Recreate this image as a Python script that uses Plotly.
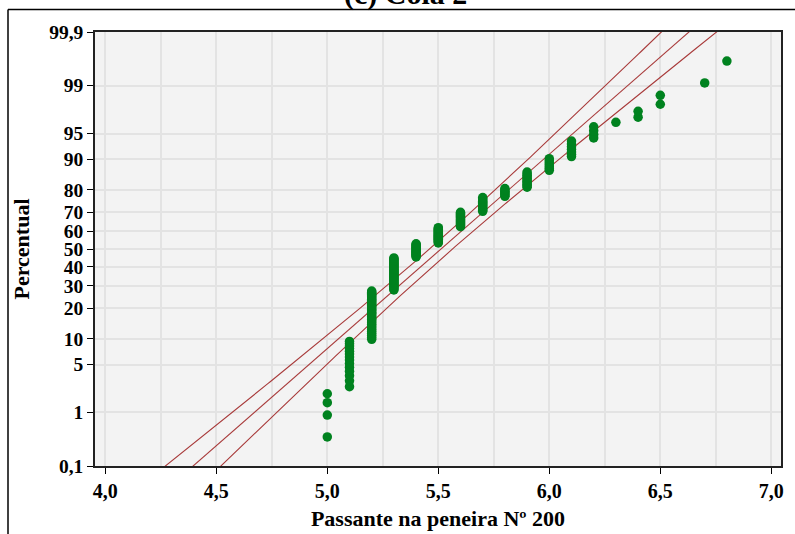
import math
from statistics import NormalDist

import numpy as np
import plotly.graph_objects as go

# Passing No. 200 sieve (%) and how many samples share each value
values = [5.0, 5.1, 5.2, 5.3, 5.4, 5.5, 5.6, 5.7, 5.8, 5.9,
          6.0, 6.1, 6.2, 6.3, 6.4, 6.5, 6.7, 6.8]
counts = [4, 14, 34, 33, 15, 17, 15, 13, 7, 11,
          7, 7, 4, 1, 2, 2, 1, 1]

# Probability-axis ticks (percent) and their labels
pct_ticks = [0.1, 1, 5, 10, 20, 30, 40, 50, 60, 70, 80, 90, 95, 99, 99.9]
pct_labels = ["0,1", "1", "5", "10", "20", "30", "40", "50", "60",
              "70", "80", "90", "95", "99", "99,9"]

nd = NormalDist()

# Sorted sample and median-rank plotting positions
obs = []
for v, c in zip(values, counts):
    obs.extend([v] * c)
obs.sort()
n = len(obs)
zs = [nd.inv_cdf((i + 1 - 0.3) / (n + 0.4)) for i in range(n)]

# Normal fit with 95% confidence bands
mean = sum(obs) / n
sd = math.sqrt(sum((o - mean) ** 2 for o in obs) / (n - 1))
zg = np.linspace(-3.6, 3.6, 300)
fit = mean + zg * sd
half = 1.96 * sd * np.sqrt(1.0 / n + zg ** 2 / (2.0 * n))

line_col = "#a83a3a"
font_fam = "Liberation Serif, Times New Roman, serif"

fig = go.Figure()
for xs in (fit - half, fit, fit + half):
    fig.add_trace(go.Scatter(x=xs, y=zg, mode="lines",
                             line=dict(color=line_col, width=1.1),
                             hoverinfo="skip"))
fig.add_trace(go.Scatter(x=obs, y=zs, mode="markers",
                         marker=dict(color="#00821f", size=9.5, line=dict(width=0))))

grid_col = "#e3e3e3"
z_ticks = [nd.inv_cdf(p / 100.0) for p in pct_ticks]
z_top = nd.inv_cdf(0.999)

fig.update_layout(
    width=795, height=534,
    margin=dict(l=95, r=14, t=32, b=68, autoexpand=False),
    paper_bgcolor="white",
    plot_bgcolor="#f3f3f3",
    showlegend=False,
    separators=",.",
    font=dict(family=font_fam, color="black"),
    xaxis=dict(
        range=[3.9536, 7.0437], automargin=False,
        tickmode="linear", tick0=4.0, dtick=0.5, tickformat=".1f",
        ticks="outside", ticklen=6, tickcolor="black",
        tickfont=dict(size=20, weight="bold"),
        showline=True, linecolor="#222", linewidth=1.5, mirror=True,
        showgrid=True, gridcolor=grid_col, gridwidth=1.5,
        minor=dict(dtick=0.25, tick0=4.0, showgrid=True,
                   gridcolor=grid_col, gridwidth=1.5),
        zeroline=False,
        title=dict(text="Passante na peneira Nº 200",
                   font=dict(size=22, weight="bold"), standoff=10),
    ),
    yaxis=dict(
        range=[-z_top, z_top], automargin=False,
        tickmode="array", tickvals=z_ticks, ticktext=pct_labels,
        ticks="outside", ticklen=6, tickcolor="black",
        tickfont=dict(size=19.5, weight="bold"),
        showline=True, linecolor="#222", linewidth=1.5, mirror=True,
        showgrid=True, gridcolor=grid_col, gridwidth=1.5,
        zeroline=False,
        title=dict(text="Percentual", font=dict(size=22, weight="bold"),
                   standoff=14),
    ),
)

# Outer frame (left and top edges) and the panel caption above it
px_x = lambda p: (p - 95) / 686.0
px_y = lambda p: (466 - p) / 434.0
fig.add_shape(type="line", xref="paper", yref="paper",
              x0=px_x(8), x1=px_x(800), y0=px_y(9.5), y1=px_y(9.5),
              line=dict(color="black", width=1.5))
fig.add_shape(type="line", xref="paper", yref="paper",
              x0=px_x(8), x1=px_x(8), y0=px_y(9.5), y1=px_y(540),
              line=dict(color="black", width=1.5))
fig.add_annotation(text="(c) Cola 2", xref="paper", yref="paper",
                   x=px_x(405), y=px_y(13), xanchor="center", yanchor="bottom",
                   showarrow=False,
                   font=dict(size=30, family=font_fam, weight="bold"))

fig.write_html("out.html")
